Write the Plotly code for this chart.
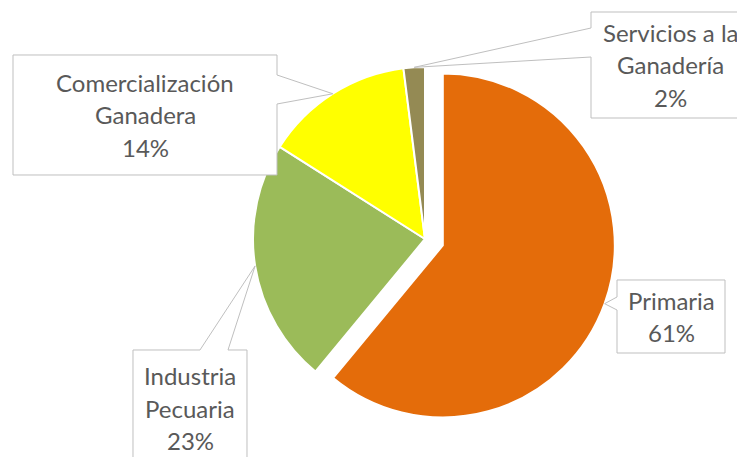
import math
import plotly.graph_objects as go

# ---- data ----
labels = ["Primaria", "Industria Pecuaria", "Comercialización Ganadera", "Servicios a la Ganadería"]
values = [61, 23, 14, 2]
label_lines = [["Primaria"], ["Industria", "Pecuaria"], ["Comercialización", "Ganadera"], ["Servicios a la", "Ganadería"]]
colors = ["#E46C0A", "#9BBB59", "#FFFF00", "#948A54"]
pulls = [0.11, 0, 0, 0]

# ---- layout geometry (pixels) ----
W, H = 737, 457
CX, CY, R = 425, 239, 172
LINE_H = 32.5
FONT = dict(family="Lato", size=24, color="#595959")
BORDER = "#BFBFBF"

# callout boxes: left, top, right, bottom, side of pointer, pointer base start, end
boxes = [
    (617, 280, 725, 353, "left", 297, 310),
    (133, 350, 247, 466, "top", 200, 228),
    (13, 55, 277, 175, "right", 75, 104),
    (591, 12, 750, 118, "left", 28, 57),
]

maxpull = max(pulls)
half_h = R * (1 + maxpull)
dom_y = [1 - (CY + half_h) / H, 1 - (CY - half_h) / H]
dom_x = [CX / W - 0.3, CX / W + 0.3]


def px(x):
    return x / W


def py(y):
    return 1 - y / H


fig = go.Figure(go.Pie(
    labels=labels, values=values, sort=False, direction="clockwise", rotation=0,
    pull=pulls, marker=dict(colors=colors, line=dict(color="white", width=2)),
    textinfo="none", hoverinfo="label+percent", showlegend=False,
    domain=dict(x=dom_x, y=dom_y),
))

total = sum(values)
cum = 0
shapes = []
annotations = []
for i, v in enumerate(values):
    mid = (cum + v / 2) / total
    cum += v
    th = 2 * math.pi * mid
    dx, dy = math.sin(th), -math.cos(th)
    rr = R * (1 + pulls[i])
    tx, ty = CX + rr * dx, CY + rr * dy

    l, t, r, b, side, b1, b2 = boxes[i]
    if side == "left":
        pts = [(l, t), (r, t), (r, b), (l, b), (l, b2), (tx, ty), (l, b1)]
    elif side == "right":
        pts = [(l, t), (r, t), (r, b1), (tx, ty), (r, b2), (r, b), (l, b)]
    else:  # top
        pts = [(l, t), (b1, t), (tx, ty), (b2, t), (r, t), (r, b), (l, b)]
    path = "M " + " L ".join(f"{px(x):.5f},{py(y):.5f}" for x, y in pts) + " Z"
    shapes.append(dict(type="path", path=path, xref="paper", yref="paper",
                       fillcolor="white", line=dict(color=BORDER, width=1)))

    lines = label_lines[i] + [f"{round(v / total * 100)}%"]
    bcx, bcy = (l + r) / 2, (t + b) / 2
    n = len(lines)
    for k, s in enumerate(lines):
        yk = bcy + (k - (n - 1) / 2) * LINE_H
        annotations.append(dict(text=s, x=px(bcx), y=py(yk), xref="paper", yref="paper",
                                xanchor="center", yanchor="middle", showarrow=False, font=FONT))

fig.update_layout(
    width=W, height=H, margin=dict(l=0, r=0, t=0, b=0),
    paper_bgcolor="white", plot_bgcolor="white",
    shapes=shapes, annotations=annotations,
)

fig.write_html("out.html", config={"displayModeBar": False},
               post_script="document.body.style.margin='0';")
